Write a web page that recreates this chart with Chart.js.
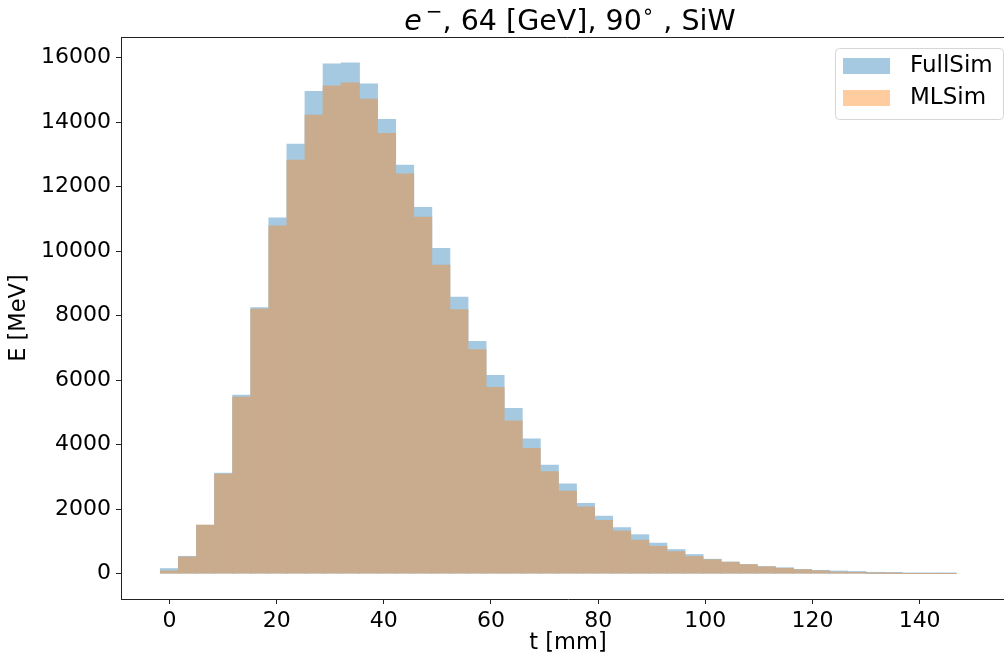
<!DOCTYPE html>
<html>
<head>
<meta charset="utf-8">
<script src="https://cdn.jsdelivr.net/npm/chart.js@4.4.0/dist/chart.umd.min.js"></script>
<style>
  html, body { margin: 0; padding: 0; background: #fff; overflow: hidden; }
  #wrap { width: 1004px; height: 654px; overflow: hidden; }
</style>
</head>
<body>
<!-- the original figure is cropped on the right, so the canvas runs a bit past the window -->
<div id="wrap"><canvas id="chart" width="1016" height="654"></canvas></div>
<script>
// bin centres (layer depth, mm) - bins are 3.375 mm wide
const binCenters = [0, 3.375, 6.75, 10.125, 13.5, 16.875, 20.25, 23.625, 27, 30.375,
  33.75, 37.125, 40.5, 43.875, 47.25, 50.625, 54, 57.375, 60.75, 64.125,
  67.5, 70.875, 74.25, 77.625, 81, 84.375, 87.75, 91.125, 94.5, 97.875,
  101.25, 104.625, 108, 111.375, 114.75, 118.125, 121.5, 124.875, 128.25, 131.625,
  135, 138.375, 141.75, 145.125];

const fullSim = [150, 530, 1480, 3110, 5530, 8240, 11030, 13310, 14950, 15800,
  15830, 15180, 14080, 12660, 11350, 10080, 8570, 7200, 6140, 5120,
  4170, 3360, 2780, 2170, 1780, 1420, 1200, 940, 740, 585,
  440, 355, 268, 213, 175, 125, 95, 75, 60, 35,
  30, 15, 12, 10];

const mlSim = [80, 510, 1500, 3080, 5470, 8200, 10780, 12820, 14210, 15120,
  15210, 14710, 13650, 12390, 11050, 9560, 8180, 6940, 5770, 4730,
  3880, 3160, 2550, 2060, 1645, 1315, 1030, 840, 677, 523,
  425, 346, 275, 205, 160, 115, 80, 45, 35, 5,
  3, 0, 0, 0];

const xTicks = [0, 20, 40, 60, 80, 100, 120, 140];
const yTicks = [0, 2000, 4000, 6000, 8000, 10000, 12000, 14000, 16000];

// alpha=0.4 tab:blue / tab:orange, pre-blended on white so adjacent bars show no seams
const BLUE = 'rgb(165,201,225)';
const OVERLAP = 'rgb(201,171,141)';
const ORANGE_PATCH = 'rgb(255,204,159)';
const FONT = "'DejaVu Sans', sans-serif";

// top + right spines (matplotlib draws a full box)
const framePlugin = {
  id: 'frame',
  afterDraw(chart) {
    const { ctx, chartArea: a } = chart;
    ctx.save();
    ctx.strokeStyle = '#222';
    ctx.lineWidth = 1;
    ctx.beginPath();
    ctx.moveTo(a.left, a.top + 0.5);
    ctx.lineTo(a.right - 0.5, a.top + 0.5);
    ctx.lineTo(a.right - 0.5, a.bottom);
    ctx.stroke();
    ctx.restore();
  }
};

// title with mathtext-ish pieces: italic e, superscript minus and degree ring
const titlePlugin = {
  id: 'mathTitle',
  afterDraw(chart) {
    const ctx = chart.ctx;
    const a = chart.chartArea;
    const parts = [
      { t: 'e', f: 'italic 28.5px ' + FONT, dy: 0 },
      { t: '\u2009\u2212', f: '20px ' + FONT, dy: -12 },
      { t: ', 64 [GeV], 90', f: '28.5px ' + FONT, dy: 0 },
      { t: '\u2218', f: '20px ' + FONT, dy: -12 },
      { t: ' , SiW', f: '28.5px ' + FONT, dy: 0 }
    ];
    ctx.save();
    ctx.fillStyle = '#000';
    ctx.textBaseline = 'alphabetic';
    let total = 0;
    parts.forEach(p => { ctx.font = p.f; p.w = ctx.measureText(p.t).width; total += p.w; });
    let x = (a.left + a.right) / 2 + 2 - total / 2;
    const base = 30;
    parts.forEach(p => { ctx.font = p.f; ctx.fillText(p.t, x, base + p.dy); x += p.w; });
    ctx.restore();
  }
};

// legend box in the upper right, inside the axes
const legendPlugin = {
  id: 'boxLegend',
  afterDraw(chart) {
    const ctx = chart.ctx;
    const bx = 835, by = 48, bw = 168, bh = 71, r = 4;
    const patches = [BLUE, ORANGE_PATCH];
    ctx.save();
    ctx.fillStyle = 'rgba(255,255,255,0.8)';
    ctx.strokeStyle = '#d6d6d6';
    ctx.lineWidth = 1;
    ctx.beginPath();
    ctx.roundRect(bx + 0.5, by + 0.5, bw, bh, r);
    ctx.fill();
    ctx.stroke();
    ctx.font = '23px ' + FONT;
    ctx.textBaseline = 'middle';
    chart.data.datasets.forEach((ds, i) => {
      const y = 58 + i * 32;
      ctx.fillStyle = patches[i];
      ctx.fillRect(843, y, 47, 16);
      ctx.fillStyle = '#000';
      ctx.fillText(ds.label, 910, y + 8);
    });
    ctx.restore();
  }
};

const ctx = document.getElementById('chart');
new Chart(ctx, {
  type: 'bar',
  data: {
    datasets: [
      {
        label: 'FullSim',
        data: binCenters.map((x, i) => ({ x, y: fullSim[i] })),
        backgroundColor: BLUE,
        order: 2
      },
      {
        label: 'MLSim',
        data: binCenters.map((x, i) => ({ x, y: mlSim[i] })),
        backgroundColor: OVERLAP,
        order: 1
      }
    ]
  },
  options: {
    responsive: false,
    animation: false,
    datasets: {
      bar: { grouped: false, barPercentage: 1, categoryPercentage: 1, borderWidth: 0, inflateAmount: 0.5 }
    },
    layout: { padding: { top: 37, right: 1, left: 0, bottom: 0 } },
    plugins: {
      legend: { display: false },
      title: { display: false },
      tooltip: { enabled: false }
    },
    scales: {
      x: {
        type: 'linear',
        offset: false,
        min: -9.05,
        max: 157.8,
        afterBuildTicks: s => { s.ticks = xTicks.map(v => ({ value: v })); },
        afterFit: s => { s.height = 55; },
        ticks: { color: '#000', font: { family: FONT, size: 22 }, padding: 4, maxRotation: 0, autoSkip: false },
        grid: { offset: false, drawOnChartArea: false, drawTicks: true, tickLength: 5, tickColor: '#222' },
        border: { display: true, color: '#222', width: 1 },
        title: { display: true, text: 't [mm]', color: '#000', font: { family: FONT, size: 22.5, lineHeight: 1 }, padding: { top: 0, bottom: 0 } }
      },
      y: {
        min: -790,
        max: 16640,
        afterBuildTicks: s => { s.ticks = yTicks.map(v => ({ value: v })); },
        afterFit: s => { s.width = 121; },
        ticks: { color: '#000', font: { family: FONT, size: 22 }, padding: 5, callback: v => String(v) },
        grid: { drawOnChartArea: false, drawTicks: true, tickLength: 5, tickColor: '#222' },
        border: { display: true, color: '#222', width: 1 },
        title: { display: true, text: 'E [MeV]', color: '#000', font: { family: FONT, size: 22.5 }, padding: { top: 6, bottom: 0 } }
      }
    }
  },
  plugins: [framePlugin, titlePlugin, legendPlugin]
});
</script>
</body>
</html>
